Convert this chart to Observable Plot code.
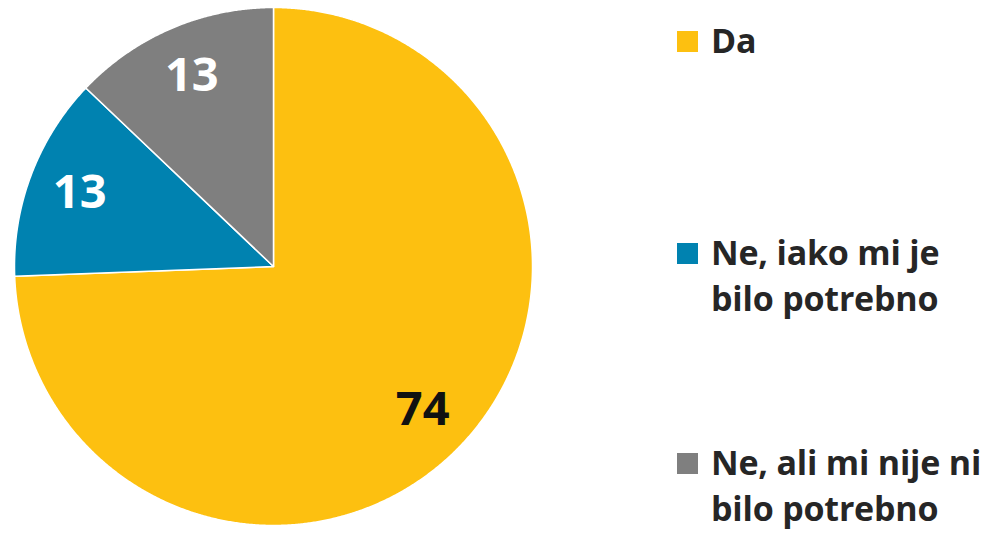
<!DOCTYPE html>
<html>
<head>
<meta charset="utf-8">
<script src="https://cdn.jsdelivr.net/npm/d3@7"></script>
<script src="https://cdn.jsdelivr.net/npm/@observablehq/plot@0.6"></script>
<style>
  html, body { margin: 0; padding: 0; background: #fff; }
  #wrap { position: relative; width: 999px; height: 536px; overflow: hidden; }
  #legend { position: absolute; left: 0; top: 0; font-family: "Open Sans", sans-serif; font-weight: 700; color: #262626; }
  .item { position: absolute; left: 711px; font-size: 34px; line-height: 46px; white-space: nowrap; letter-spacing: -0.2px; }
  .sw { position: absolute; left: 677px; width: 21px; height: 21px; }
</style>
</head>
<body>
<div id="wrap"></div>
<script>
const categories = ["Da", "Ne, iako mi je bilo potrebno", "Ne, ali mi nije ni bilo potrebno"];
const values = [74.4, 12.7, 12.9];
const valueLabels = ["74", "13", "13"];
const colors = ["#FDC010", "#0082B0", "#7F7F7F"];
const labelColors = ["#111111", "#ffffff", "#ffffff"];
const legendLines = [["Da"], ["Ne, iako mi je", "bilo potrebno"], ["Ne, ali mi nije ni", "bilo potrebno"]];

const arcs = d3.pie().sort(null).value(d => d.value)(
  categories.map((c, i) => ({category: c, value: values[i], label: valueLabels[i], lc: labelColors[i]}))
);

// polygon outlines for each slice
const pts = [];
arcs.forEach(a => {
  const c = a.data.category;
  pts.push({category: c, x: 0, y: 0});
  const n = Math.max(2, Math.ceil((a.endAngle - a.startAngle) / 0.005));
  for (let k = 0; k <= n; k++) {
    const t = a.startAngle + (a.endAngle - a.startAngle) * k / n;
    pts.push({category: c, x: Math.sin(t), y: Math.cos(t)});
  }
  pts.push({category: c, x: 0, y: 0});
});

const labels = arcs.map(a => {
  const m = (a.startAngle + a.endAngle) / 2;
  return {x: 0.8 * Math.sin(m), y: 0.8 * Math.cos(m), text: a.data.label, fill: a.data.lc};
});

const chart = Plot.plot({
  width: 999,
  height: 536,
  marginLeft: 14,
  marginRight: 467,
  marginTop: 7,
  marginBottom: 11,
  x: {domain: [-1, 1], axis: null},
  y: {domain: [-1, 1], axis: null},
  color: {domain: categories, range: colors},
  style: {fontFamily: "'Open Sans', sans-serif", background: "white"},
  marks: [
    Plot.line(pts, {x: "x", y: "y", z: "category", fill: "category", stroke: "white", strokeWidth: 1.5, strokeLinejoin: "round"}),
    Plot.text(labels, {x: "x", y: "y", text: "text", fill: d => d.fill, fontSize: 47, fontWeight: 700})
  ]
});
document.getElementById("wrap").appendChild(chart);

const legend = document.createElement("div");
legend.id = "legend";
const baselines = [53, 265, 475];
categories.forEach((c, i) => {
  const sw = document.createElement("div");
  sw.className = "sw";
  sw.style.background = colors[i];
  sw.style.top = (baselines[i] - 22) + "px";
  legend.appendChild(sw);
  const t = document.createElement("div");
  t.className = "item";
  t.style.top = (baselines[i] - 36) + "px";
  t.innerHTML = legendLines[i].join("<br>");
  legend.appendChild(t);
});
document.getElementById("wrap").appendChild(legend);
</script>
</body>
</html>
